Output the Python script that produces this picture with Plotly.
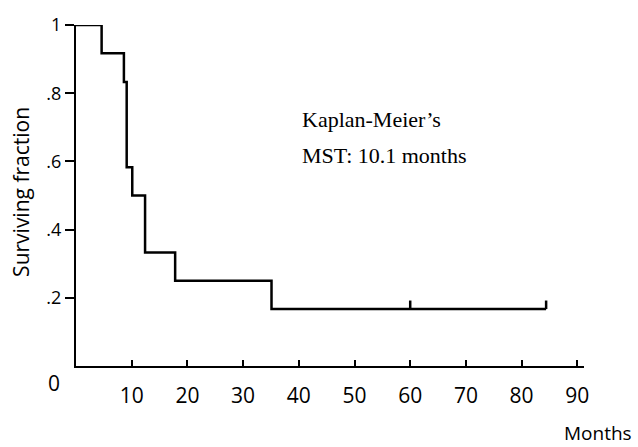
import plotly.graph_objects as go

# Kaplan-Meier step data (months, surviving fraction)
times = [0, 4.6, 8.6, 9.1, 10.1, 12.4, 17.8, 35.1, 84.4]
survival = [1.0, 0.917, 0.833, 0.583, 0.5, 0.333, 0.25, 0.167, 0.167]

# censored observations
censor_times = [60.0, 84.4]
censor_surv = [0.167, 0.167]

x_ticks = [10, 20, 30, 40, 50, 60, 70, 80, 90]
y_ticks = [0.2, 0.4, 0.6, 0.8, 1.0]
y_ticklabels = [".2", ".4", ".6", ".8", "1"]

CENSOR_H = 0.025

fig = go.Figure()
fig.add_trace(go.Scatter(
    x=times, y=survival, mode="lines", line_shape="hv",
    line=dict(color="black", width=2.5), cliponaxis=False, showlegend=False,
))

cx, cy = [], []
for t, s in zip(censor_times, censor_surv):
    cx += [t, t, None]
    cy += [s, s + CENSOR_H, None]
fig.add_trace(go.Scatter(
    x=cx, y=cy, mode="lines", line=dict(color="black", width=2.5),
    cliponaxis=False, showlegend=False,
))

sans = "Open Sans"
serif = "Liberation Serif"
fig.update_layout(
    width=638, height=447,
    margin=dict(l=76, r=54, t=19, b=81),
    plot_bgcolor="white", paper_bgcolor="white",
    font=dict(family=sans, size=16, color="black"),
    xaxis=dict(
        range=[0, 91.2], showgrid=False, zeroline=False,
        showline=True, linecolor="black", linewidth=2,
        ticks="inside", ticklen=6, tickwidth=2, tickcolor="black",
        tickvals=x_ticks, ticklabelstandoff=10,
        tickfont=dict(family=sans, size=21),
    ),
    yaxis=dict(
        range=[0, 1], showgrid=False, zeroline=False,
        showline=True, linecolor="black", linewidth=2,
        ticks="outside", ticklen=9, tickwidth=2, tickcolor="black",
        tickvals=y_ticks, ticktext=y_ticklabels,
        tickfont=dict(family=sans, size=18),
    ),
    annotations=[
        dict(text="0", xref="paper", yref="paper", x=-0.028, y=-0.05,
             xanchor="right", yanchor="middle", showarrow=False,
             font=dict(family=sans, size=21)),
        dict(text="Surviving fraction", xref="paper", yref="paper",
             x=-0.108, y=0.511, textangle=-90, xanchor="center",
             yanchor="middle", showarrow=False, font=dict(family=sans, size=21)),
        dict(text="Months", xref="paper", yref="paper", x=0.957, y=-0.197,
             xanchor="left", yanchor="middle", showarrow=False,
             font=dict(family=sans, size=19)),
        dict(text="Kaplan-Meier\u2019s", xref="x", yref="y", x=40.2, y=0.724,
             xanchor="left", yanchor="middle", showarrow=False,
             font=dict(family=serif, size=22)),
        dict(text="MST: 10.1 months", xref="x", yref="y", x=40.2, y=0.617,
             xanchor="left", yanchor="middle", showarrow=False,
             font=dict(family=serif, size=22)),
    ],
)

fig.write_html(
    "out.html",
    config={"displayModeBar": False},
    post_script="document.body.style.margin='0';document.body.style.overflow='hidden';",
)
